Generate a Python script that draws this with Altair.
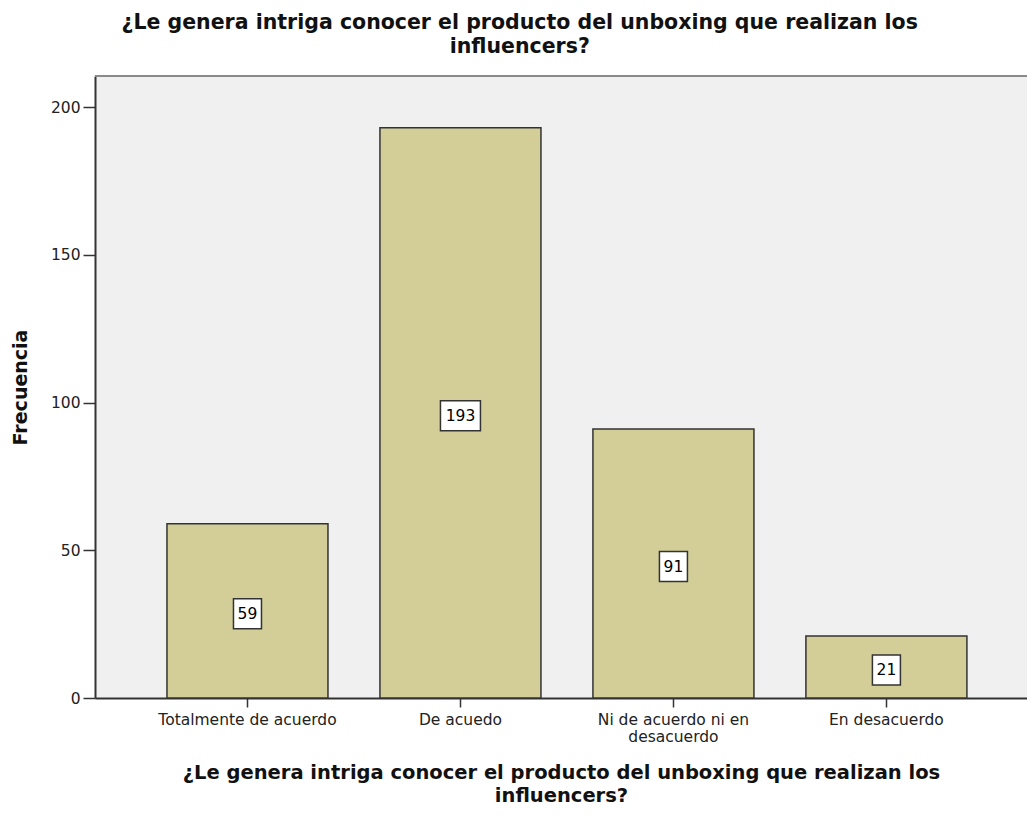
import altair as alt
import pandas as pd

# Frequency table for the survey question
categorias = [
    "Totalmente de acuerdo",
    "De acuedo",
    "Ni de acuerdo ni en desacuerdo",
    "En desacuerdo",
]
frecuencias = [59, 193, 91, 21]

pregunta = [
    "¿Le genera intriga conocer el producto del unboxing que realizan los",
    "influencers?",
]

W, H = 932, 622
Y_MAX = 210.5
PX_PER_UNIT = H / Y_MAX
BOX_H = 30  # label box height in px

df = pd.DataFrame({"categoria": categorias, "frecuencia": frecuencias})
df["etiqueta"] = df["frecuencia"].astype(str)
df["centro"] = df["frecuencia"] / 2 - 1
half = BOX_H / 2 / PX_PER_UNIT
df["caja_lo"] = df["centro"] - half
df["caja_hi"] = df["centro"] + half
df["caja_w"] = df["etiqueta"].str.len() * 12 + 4

FONT = "DejaVu Sans"
EDGE = "#333333"

x_enc = alt.X(
    "categoria:N",
    sort=categorias,
    scale=alt.Scale(paddingInner=0.244, paddingOuter=0.31, align=0.545),
    axis=alt.Axis(
        title=pregunta,
        labelAngle=0,
        labelFont=FONT,
        labelFontSize=15.5,
        labelColor="#222222",
        labelPadding=5,
        labelLineHeight=17,
        labelExpr="datum.label == 'Ni de acuerdo ni en desacuerdo' ? ['Ni de acuerdo ni en', 'desacuerdo'] : datum.label",
        tickSize=9,
        tickColor=EDGE,
        tickWidth=1.5,
        domainColor=EDGE,
        domainWidth=2,
        titleFont=FONT,
        titleFontSize=19.5,
        titleFontWeight="bold",
        titleColor="#111111",
        titleLineHeight=22.5,
        titlePadding=19,
    ),
)

y_scale = alt.Scale(domain=[0, Y_MAX], nice=False)

bars = alt.Chart(df).mark_bar(
    color="#D3CE98", stroke=EDGE, strokeWidth=1.5
).encode(
    x=x_enc,
    y=alt.Y(
        "frecuencia:Q",
        scale=y_scale,
        axis=alt.Axis(
            title="Frecuencia",
            values=[0, 50, 100, 150, 200],
            grid=False,
            labelFont=FONT,
            labelFontSize=15.5,
            labelColor="#222222",
            labelPadding=3,
            tickSize=12,
            tickColor=EDGE,
            tickWidth=1.5,
            domainColor=EDGE,
            domainWidth=2,
            titleFont=FONT,
            titleFontSize=19,
            titleFontWeight="bold",
            titleColor="#111111",
            titlePadding=20,
        ),
    ),
)

cajas = alt.Chart(df).mark_bar(
    color="white", stroke=EDGE, strokeWidth=1.5
).encode(
    x=alt.X("categoria:N", sort=categorias),
    y=alt.Y("caja_lo:Q", scale=y_scale),
    y2="caja_hi:Q",
    size=alt.Size("caja_w:Q", scale=None, legend=None),
)

textos = alt.Chart(df).mark_text(
    font=FONT, fontSize=15.5, color="#000000", baseline="middle"
).encode(
    x=alt.X("categoria:N", sort=categorias),
    y=alt.Y("centro:Q", scale=y_scale),
    text="etiqueta:N",
)

borde_sup = alt.Chart(df).mark_rule(color="#8a8a8a", strokeWidth=2).encode(
    x=alt.value(0), x2=alt.value(W), y=alt.datum(Y_MAX)
)

chart = (
    alt.layer(bars, cajas, textos, borde_sup)
    .properties(
        width=W,
        height=H,
        background="white",
        padding={"left": 95, "top": 76, "right": 0, "bottom": 118},
        autosize=alt.AutoSizeParams(type="none"),
        title=alt.TitleParams(
            text=pregunta,
            font=FONT,
            fontSize=20.5,
            fontWeight="bold",
            color="#111111",
            anchor="middle",
            frame="bounds",
            lineHeight=23.5,
            offset=18,
        ),
    )
    .configure_view(fill="#F0F0F0", stroke=None)
)

chart.save("out.html", embed_options={"renderer": "svg", "actions": False})
